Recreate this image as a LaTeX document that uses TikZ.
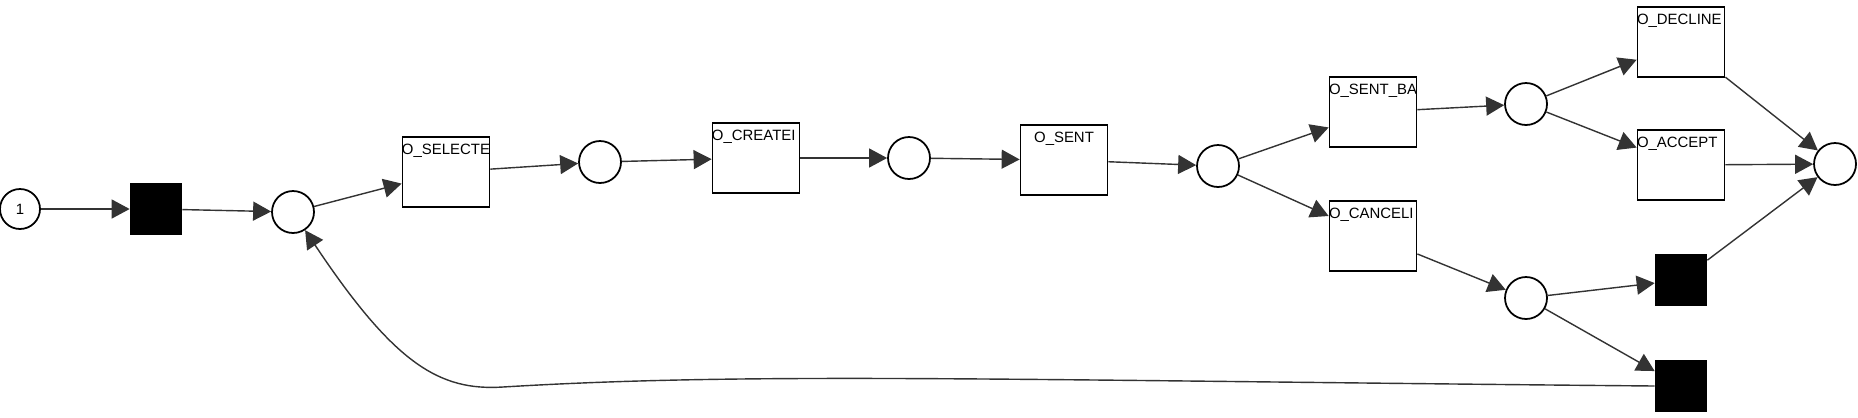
\documentclass[tikz,border=0pt]{standalone}
\usepackage{fontspec}
\setmainfont{Liberation Sans}
\usetikzlibrary{arrows.meta}
\definecolor{edgegray}{HTML}{333333}
\tikzstyle{place}=[draw, circle, line width=1pt, inner sep=0pt, minimum size=0.84cm]
\tikzstyle{trans}=[draw, line width=1pt, inner sep=0pt, minimum width=1.74cm, minimum height=1.4cm]
\tikzstyle{silent}=[fill=black, inner sep=0pt, minimum size=1.04cm]
\tikzstyle{tname}=[font=\fontsize{8.5}{10}\selectfont, inner sep=0pt]
\tikzstyle{arc}=[draw=edgegray, line width=0.8pt, -{Triangle[length=0.36cm, width=0.38cm]}]

\begin{document}
\begin{tikzpicture}[x=0.02cm, y=-0.02cm]
    \useasboundingbox (0, 0) rectangle (1858, 417);
    % places
    \node[place, minimum size=0.8cm, tname] (p0) at (20, 209) {1};
    \node[place] (p1) at (293, 212) {};
    \node[place] (p2) at (600, 162) {};
    \node[place] (p3) at (909, 158) {};
    \node[place] (p4) at (1218, 166) {};
    \node[place] (p5) at (1526, 104) {};
    \node[place] (p6) at (1526, 298) {};
    \node[place] (p7) at (1835, 164) {};
    % silent transitions
    \node[silent] (t0) at (156, 209) {};
    \node[silent] (t1) at (1681, 280) {};
    \node[silent] (t2) at (1681, 386) {};
    % labelled transitions
    \node[trans, label={[tname, anchor=north west, yshift=-0.16cm]north west:O\_SELECTE}] (sel) at (446, 172) {};
    \node[trans, label={[tname, anchor=north west, yshift=-0.16cm]north west:O\_CREATEI}] (cre) at (756, 158) {};
    \node[trans, label={[tname, anchor=north, yshift=-0.16cm]north:O\_SENT}] (sent) at (1064, 160) {};
    \node[trans, label={[tname, anchor=north west, yshift=-0.16cm]north west:O\_SENT\_BA}] (sba) at (1373, 112) {};
    \node[trans, label={[tname, anchor=north west, yshift=-0.16cm]north west:O\_CANCELI}] (can) at (1373, 236) {};
    \node[trans, label={[tname, anchor=north west, yshift=-0.16cm]north west:O\_DECLINE}] (dec) at (1681, 42) {};
    \node[trans, label={[tname, anchor=north west, yshift=-0.16cm]north west:O\_ACCEPT}] (acc) at (1681, 165) {};
    % arcs
    \draw[arc] (p0) -- (t0);
    \draw[arc] (t0) -- (p1);
    \draw[arc] (p1) -- (sel);
    \draw[arc] (sel) -- (p2);
    \draw[arc] (p2) -- (cre);
    \draw[arc] (cre) -- (p3);
    \draw[arc] (p3) -- (sent);
    \draw[arc] (sent) -- (p4);
    \draw[arc] (p4) -- (sba);
    \draw[arc] (p4) -- (can);
    \draw[arc] (sba) -- (p5);
    \draw[arc] (can) -- (p6);
    \draw[arc] (p5) -- (dec);
    \draw[arc] (p5) -- (acc);
    \draw[arc] (dec) -- (p7);
    \draw[arc] (acc) -- (p7);
    \draw[arc] (p6) -- (t1);
    \draw[arc] (p6) -- (t2);
    \draw[arc] (t1) -- (p7);
    % loop back
    \draw[arc] (t2.west) .. controls (1000, 380) and (750, 372) .. (503, 387)
        .. controls (440, 391) and (395, 365) .. (p1);
\end{tikzpicture}
\end{document}
